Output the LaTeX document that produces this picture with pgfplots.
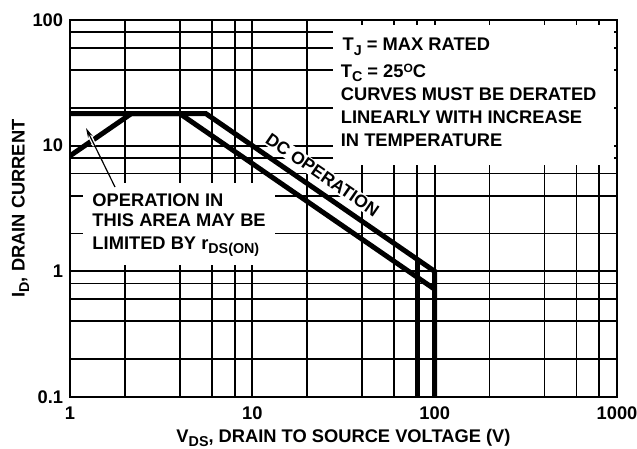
\documentclass[border=0pt]{standalone}
\usepackage{pgfplots}
\pgfplotsset{compat=1.18}
\usepackage{fontspec}
\setmainfont{Liberation Sans}
\usetikzlibrary{arrows.meta}
\newcommand{\fs}{\fontsize{18.3}{18.3}\selectfont\bfseries}
\newcommand{\sub}[1]{\raisebox{-4.5pt}{\fontsize{14.3}{14.3}\selectfont\bfseries #1}}
\newcommand{\sups}[1]{\raisebox{5pt}{\fontsize{12}{12}\selectfont\bfseries #1}}
\begin{document}
\begin{tikzpicture}
\begin{axis}[
  at={(0,0)}, anchor=south west,
  scale only axis, width=547pt, height=377pt,
  xmode=log, ymode=log,
  xmin=1, xmax=1000, ymin=0.1, ymax=100,
  xtick={1,10,100,1000}, xticklabels={\textbf{1},\textbf{10},\textbf{100},\textbf{1000}},
  ytick={0.1,1,10,100}, yticklabels={\textbf{0.1},\textbf{1},\textbf{10},\textbf{100}},
  minor xtick={2,4,6,8,20,40,60,80,200,400,600,800},
  minor ytick={0.2,0.4,0.6,0.8,2,4,6,8,20,40,60,80},
  grid=both,
  major grid style={black, line width=1.8pt},
  minor grid style={black, line width=1.8pt},
  major tick length=0pt, minor tick length=0pt,
  axis line style={line width=1.8pt},
  xticklabel style={font=\fs, inner sep=0pt, anchor=north, yshift=-10pt},
  yticklabel style={font=\fs, inner sep=0pt, anchor=east, xshift=-6.7pt},
  /pgf/number format/assume math mode=true,
]
\addplot[black, line width=5pt] coordinates {(1,18) (5.56,18) (100,1) (100,0.1)};
\addplot[black, line width=5pt] coordinates {(1,8.3) (2.17,18) (4,18) (100,0.72)};
\addplot[black, line width=5pt] coordinates {(80,1.25) (80,0.1)};
\end{axis}
\begin{scope}[x=1pt, y=-1pt, shift={(-70pt,397pt)}]
  % upper-right note
  \fill[white] (333,25) rectangle (614,165);
  \node[font=\fs, inner sep=0pt, anchor=base west] at (342.5,50.7) {T\sub{J} = MAX RATED};
  \node[font=\fs, inner sep=0pt, anchor=base west] at (340.7,77.3) {T\sub{C} = 25\sups{O}C};
  \node[font=\fs, inner sep=0pt, anchor=base west] at (340.7,100.7) {CURVES MUST BE DERATED};
  \node[font=\fs, inner sep=0pt, anchor=base west] at (340.7,123.3) {LINEARLY WITH INCREASE};
  \node[font=\fs, inner sep=0pt, anchor=base west] at (340.7,146.7) {IN TEMPERATURE};
  % rds(on) note
  \fill[white] (83,183) rectangle (275,265);
  \node[font=\fs, inner sep=0pt, anchor=base west] at (92.3,206.7) {OPERATION IN};
  \node[font=\fs, inner sep=0pt, anchor=base west] at (92.3,226.7) {THIS AREA MAY BE};
  \node[font=\fs, inner sep=0pt, anchor=base west] at (92.3,249) {LIMITED BY r\sub{DS(ON)}};
  % arrow with halo
  \draw[white, line width=4pt] (94.7,145.7) -- (88.9,133.9);
  \draw[black, line width=1.2pt, -{Stealth[length=10pt,width=5pt]}] (115,187) -- (86,128);
  % DC OPERATION label
  \node[font=\fontsize{17.5}{17.5}\selectfont\bfseries, fill=white, inner sep=1.5pt, rotate=-34.6] at (322.4,174.9) {DC OPERATION};
  % axis labels
  \node[font=\fs, inner sep=0pt, anchor=base] at (343.5,442) {V\sub{DS}, DRAIN TO SOURCE VOLTAGE (V)};
  \node[font=\fs, inner sep=0pt, anchor=base, rotate=90] at (24.7,208.5) {I\sub{D}, DRAIN CURRENT};
  \pgfresetboundingbox
  \path[use as bounding box] (0,0) rectangle (637,448);
\end{scope}
\end{tikzpicture}
\end{document}
